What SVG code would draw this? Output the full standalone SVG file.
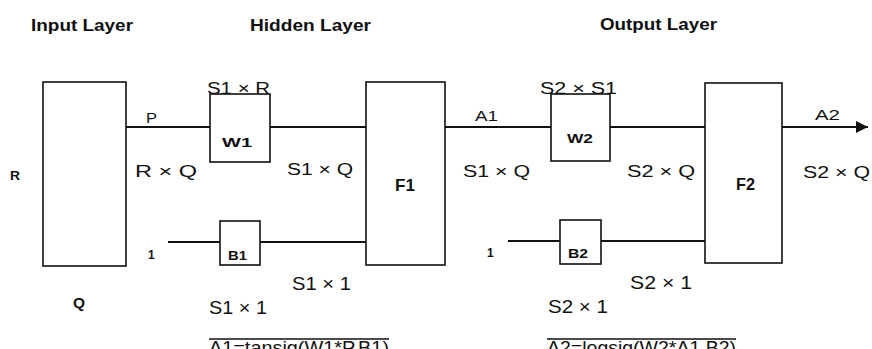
<svg xmlns="http://www.w3.org/2000/svg" width="872" height="349" viewBox="0 0 872 349">
<style>
  .box { fill: #fff; stroke: #111; stroke-width: 1.6; }
  .wire { stroke: #111; stroke-width: 1.8; fill: none; }
  text { font-family: "Liberation Sans", Arial, sans-serif; fill: #111; }
  .title { font-size: 17px; font-weight: bold; }
  .dim { font-size: 16px; }
  .big { font-size: 18px; }
  .b { font-weight: bold; }
</style>
<defs>
  <marker id="arrow" markerUnits="userSpaceOnUse" markerWidth="14" markerHeight="12" refX="12" refY="6" orient="auto">
    <path d="M0,0 L12,6 L0,12 Z" fill="#111"/>
  </marker>
</defs>
<rect width="872" height="349" fill="#fff"/>

<g id="titles">
  <text class="title" x="31" y="31" textLength="102" lengthAdjust="spacingAndGlyphs">Input Layer</text>
  <text class="title" x="250" y="31" textLength="121" lengthAdjust="spacingAndGlyphs">Hidden Layer</text>
  <text class="title" x="600" y="30" textLength="117" lengthAdjust="spacingAndGlyphs">Output Layer</text>
</g>

<g id="connectors">
  <line class="wire" x1="126" y1="127" x2="210" y2="127"/>
  <line class="wire" x1="270" y1="127" x2="366" y2="127"/>
  <line class="wire" x1="168" y1="242" x2="220" y2="242"/>
  <line class="wire" x1="260" y1="242" x2="366" y2="242"/>
  <line class="wire" x1="445" y1="127" x2="551" y2="127"/>
  <line class="wire" x1="610" y1="127" x2="705" y2="127"/>
  <line class="wire" x1="782" y1="127" x2="868" y2="127" marker-end="url(#arrow)"/>
  <line class="wire" x1="508" y1="241" x2="560" y2="241"/>
  <line class="wire" x1="601" y1="241" x2="705" y2="241"/>
</g>

<g id="input">
  <rect class="box" x="43" y="82" width="83" height="184"/>
  <text class="b" x="10" y="180" font-size="13" textLength="10" lengthAdjust="spacingAndGlyphs">R</text>
  <text class="b" x="73" y="308" font-size="15" textLength="12" lengthAdjust="spacingAndGlyphs">Q</text>
  <text x="146" y="123" font-size="15" textLength="11" lengthAdjust="spacingAndGlyphs">P</text>
  <text class="dim" x="135" y="177" textLength="62" lengthAdjust="spacingAndGlyphs">R × Q</text>
</g>

<g id="w1">
  <rect class="box" x="210" y="94" width="60" height="68"/>
  <text class="dim" x="207" y="94" textLength="63" lengthAdjust="spacingAndGlyphs">S1 × R</text>
  <text class="b" x="222" y="147" font-size="13" textLength="30" lengthAdjust="spacingAndGlyphs">W1</text>
  <text class="dim" x="287" y="175" textLength="66" lengthAdjust="spacingAndGlyphs">S1 × Q</text>
</g>

<g id="b1">
  <rect class="box" x="220" y="221" width="40" height="44"/>
  <text class="b" x="148" y="259" font-size="12">1</text>
  <text class="b" x="228" y="260" font-size="12" textLength="19" lengthAdjust="spacingAndGlyphs">B1</text>
  <text class="big" x="292" y="290" textLength="59" lengthAdjust="spacingAndGlyphs">S1 × 1</text>
  <text class="big" x="209" y="314" textLength="58" lengthAdjust="spacingAndGlyphs">S1 × 1</text>
</g>

<g id="f1">
  <rect class="box" x="366" y="82" width="79" height="183"/>
  <text class="b" x="395" y="191" font-size="17" textLength="20" lengthAdjust="spacingAndGlyphs">F1</text>
  <text x="475" y="121" font-size="15" textLength="23" lengthAdjust="spacingAndGlyphs">A1</text>
  <text class="dim" x="463" y="177" textLength="67" lengthAdjust="spacingAndGlyphs">S1 × Q</text>
</g>

<g id="w2">
  <rect class="box" x="551" y="94" width="59" height="67"/>
  <text class="dim" x="540" y="94" textLength="77" lengthAdjust="spacingAndGlyphs">S2 × S1</text>
  <text class="b" x="567" y="143" font-size="13" textLength="26" lengthAdjust="spacingAndGlyphs">W2</text>
  <text class="dim" x="627" y="177" textLength="68" lengthAdjust="spacingAndGlyphs">S2 × Q</text>
</g>

<g id="b2">
  <rect class="box" x="560" y="220" width="41" height="44"/>
  <text class="b" x="487" y="257" font-size="12">1</text>
  <text class="b" x="568" y="258" font-size="12" textLength="20" lengthAdjust="spacingAndGlyphs">B2</text>
  <text class="big" x="630" y="289" textLength="62" lengthAdjust="spacingAndGlyphs">S2 × 1</text>
  <text class="big" x="548" y="313" textLength="60" lengthAdjust="spacingAndGlyphs">S2 × 1</text>
</g>

<g id="f2">
  <rect class="box" x="705" y="83" width="77" height="180"/>
  <text class="b" x="736" y="190" font-size="17" textLength="19" lengthAdjust="spacingAndGlyphs">F2</text>
  <text x="815" y="120" font-size="15" textLength="25" lengthAdjust="spacingAndGlyphs">A2</text>
  <text class="dim" x="803" y="178" textLength="67" lengthAdjust="spacingAndGlyphs">S2 × Q</text>
</g>

<g id="equations">
  <line x1="209" y1="339" x2="389" y2="339" stroke="#111" stroke-width="1.6"/>
  <text x="209" y="354" font-size="19" textLength="180" lengthAdjust="spacingAndGlyphs">A1=tansig(W1*P,B1)</text>
  <line x1="547" y1="339" x2="736" y2="339" stroke="#111" stroke-width="1.6"/>
  <text x="547" y="354" font-size="19" textLength="189" lengthAdjust="spacingAndGlyphs">A2=logsig(W2*A1,B2)</text>
</g>
</svg>
